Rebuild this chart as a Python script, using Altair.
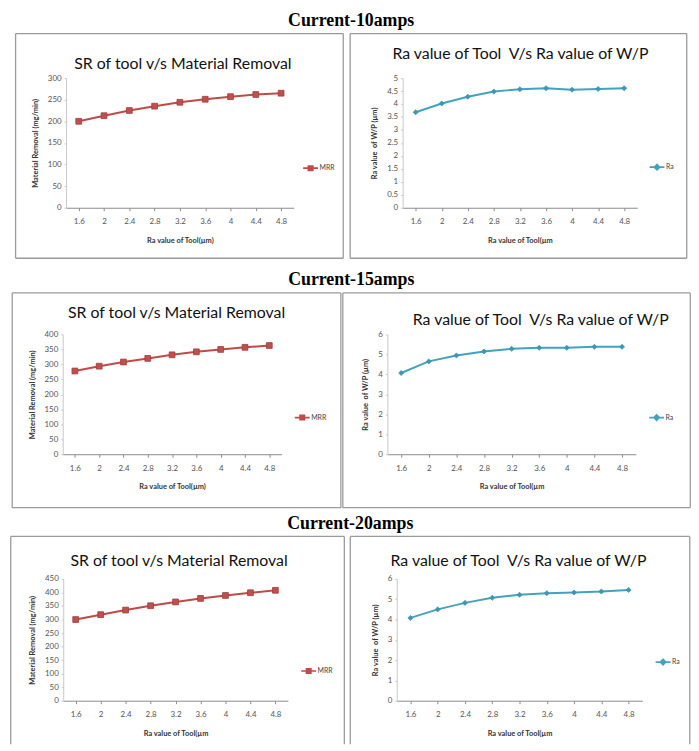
import altair as alt
import pandas as pd

# ---------------- data ----------------
x_labels = ["1.6", "2", "2.4", "2.8", "3.2", "3.6", "4", "4.4", "4.8"]

mrr_10 = [200, 213, 225, 235, 244, 251, 257, 262, 265]
ra_10 = [3.68, 4.02, 4.28, 4.48, 4.57, 4.61, 4.55, 4.58, 4.61]
mrr_15 = [278, 294, 308, 320, 332, 342, 350, 357, 363]
ra_15 = [4.07, 4.65, 4.95, 5.15, 5.28, 5.33, 5.33, 5.38, 5.38]
mrr_20 = [300, 318, 335, 351, 365, 378, 389, 399, 408]
ra_20 = [4.08, 4.50, 4.82, 5.07, 5.22, 5.30, 5.33, 5.38, 5.46]

headings = ["Current-10amps", "Current-15amps", "Current-20amps"]
left_title = "SR of tool v/s Material Removal"
right_title = "Ra value of Tool \u00a0V/s Ra value of W/P"
left_ytitle = "Material Removal (mg/min)"
right_ytitle = "Ra value \u00a0of W/P (\u00b5m)"
x_titles = [
    ["Ra value of Tool(\u00b5m)", "Ra value of Tool(\u00b5m"],
    ["Ra value of Tool(\u00b5m)", "Ra value of Tool(\u00b5m"],
    ["Ra value of Tool(\u00b5m", "Ra value of Tool(\u00b5m"],
]
left_y_ticks = [
    [0, 50, 100, 150, 200, 250, 300],
    [0, 50, 100, 150, 200, 250, 300, 350, 400],
    [0, 50, 100, 150, 200, 250, 300, 350, 400, 450],
]
right_y_ticks = [
    [0, 0.5, 1, 1.5, 2, 2.5, 3, 3.5, 4, 4.5, 5],
    [0, 1, 2, 3, 4, 5, 6],
    [0, 1, 2, 3, 4, 5, 6],
]
mrr_series = [mrr_10, mrr_15, mrr_20]
ra_series = [ra_10, ra_15, ra_20]

# ---------------- styling / layout ----------------
MRR_LINE = "#BE4B48"
MRR_PT = "#C0504D"
MRR_PT_EDGE = "#9E3B38"
RA_LINE = "#43A3BE"
RA_PT = "#3D97B1"
FRAME = "#9a9a9a"
FONT = "Lato"

SQ_PATH = "M-1.5,0H1.5M-0.45,-0.45H0.45V0.45H-0.45Z"
DIA_PATH = "M-1.5,0H1.5M0,-0.55L0.55,0L0,0.55L-0.55,0Z"

# page-pixel geometry of each panel: frame box, plot origin/size, title centre, legend position
geoms = [
    [dict(b=(15, 346, 31, 258), p=(66, 76, 230, 131), t=(184, 62), l=(307, 161), bottom=True),
     dict(b=(352, 692, 31, 258), p=(405, 76, 237, 131), t=(524, 52), l=(656, 160), bottom=True)],
    [dict(b=(13, 345, 290, 507), p=(64, 332, 221, 121), t=(179, 310), l=(300, 410), bottom=True),
     dict(b=(346, 697, 290, 507), p=(391, 332, 251, 121), t=(546, 317), l=(657, 410), bottom=True)],
    [dict(b=(10, 347, 532, 742), p=(63, 575, 227, 123), t=(180, 557), l=(305, 662), bottom=False),
     dict(b=(352, 695, 532, 742), p=(399, 575, 248, 123), t=(522, 557), l=(662, 653), bottom=False)],
]
hspacing = [5, 0, 4]

one = pd.DataFrame({"k": [0]})


def frame_layers(g):
    bx1, bx2, by1, by2 = g["b"]
    px, py, W, H = g["p"]
    x1, x2, y1, y2 = bx1 - px, bx2 - px, by1 - py, by2 - py
    rules = [
        alt.Chart(one).mark_rule(color=FRAME, strokeWidth=1.3).encode(
            x=alt.value(x1), x2=alt.value(x2), y=alt.value(y1)),
        alt.Chart(one).mark_rule(color=FRAME, strokeWidth=1.3).encode(
            x=alt.value(x1), y=alt.value(y1), y2=alt.value(y2)),
        alt.Chart(one).mark_rule(color=FRAME, strokeWidth=1.3).encode(
            x=alt.value(x2), y=alt.value(y1), y2=alt.value(y2)),
    ]
    if g["bottom"]:
        rules.append(alt.Chart(one).mark_rule(color=FRAME, strokeWidth=1.3).encode(
            x=alt.value(x1), x2=alt.value(x2), y=alt.value(y2)))
    return rules


def panel(values, series, line_color, pt_color, pt_edge, shape, pt_size, sym_path,
          yticks, ytitle, xtitle, title, g):
    px, py, W, H = g["p"]
    df = pd.DataFrame({"x": x_labels, "y": values, "series": [series] * len(values)})
    xaxis = alt.Axis(title=xtitle, labelAngle=0, labelFont=FONT, labelFontSize=8,
                     labelColor="#555555", tickSize=3, tickColor="#8c8c8c",
                     domainColor="#8c8c8c", labelPadding=7,
                     titleFont=FONT, titleFontSize=7.5, titleFontWeight="bold",
                     titleColor="#333333", titlePadding=11)
    yaxis = alt.Axis(title=ytitle, values=yticks, format="~f", labelOverlap=False,
                     labelFont=FONT, labelFontSize=8, labelColor="#555555", tickSize=2,
                     tickColor="#c8c8c8", domainColor="#c8c8c8", labelPadding=3,
                     titleFont=FONT, titleFontSize=7.5, titleFontWeight="bold",
                     titleColor="#333333", titlePadding=8)
    xscale = alt.Scale(type="point", padding=0.5)
    yscale = alt.Scale(domain=[yticks[0], yticks[-1]], nice=False)
    lx, ly = g["l"]
    line = alt.Chart(df).mark_line(strokeWidth=2).encode(
        x=alt.X("x:O", sort=x_labels, scale=xscale, axis=xaxis),
        y=alt.Y("y:Q", scale=yscale, axis=yaxis),
        color=alt.Color("series:N", title=None,
                        scale=alt.Scale(domain=[series], range=[line_color]),
                        legend=alt.Legend(orient="none", legendX=lx - px, legendY=ly - py,
                                          symbolType=sym_path, symbolSize=100,
                                          symbolStrokeWidth=1.6, symbolFillColor=pt_color,
                                          symbolStrokeColor=line_color, labelOffset=3,
                                          labelFont=FONT, labelFontSize=7,
                                          labelColor="#444444", padding=0)))
    pts = alt.Chart(df).mark_point(shape=shape, filled=True, size=pt_size, color=pt_color,
                                   stroke=pt_edge, strokeWidth=0.8, opacity=1).encode(
        x=alt.X("x:O", sort=x_labels, scale=xscale, axis=xaxis),
        y=alt.Y("y:Q", scale=yscale, axis=yaxis))
    tx, ty = g["t"]
    ttl = alt.Chart(pd.DataFrame({"t": [title]})).mark_text(
        font=FONT, fontSize=16, color="#111111", align="center", baseline="middle").encode(
        x=alt.value(tx - px), y=alt.value(ty - py), text="t:N")
    return alt.layer(*frame_layers(g), line, pts, ttl).properties(width=W, height=H)


rows = []
for i in range(3):
    gl, gr = geoms[i]
    left = panel(mrr_series[i], "MRR", MRR_LINE, MRR_PT, MRR_PT_EDGE, "square", 34, SQ_PATH,
                 left_y_ticks[i], left_ytitle, x_titles[i][0], left_title, gl)
    right = panel(ra_series[i], "Ra", RA_LINE, RA_PT, RA_PT, "diamond", 26, DIA_PATH,
                  right_y_ticks[i], right_ytitle, x_titles[i][1], right_title, gr)
    rows.append(alt.hconcat(left, right, spacing=hspacing[i]).properties(
        title=alt.TitleParams(text=headings[i], font="Liberation Serif", fontSize=18,
                              fontWeight="bold", color="#000000", anchor="middle",
                              offset=3)
    ).resolve_scale(color="independent", x="independent", y="independent"))

lower = alt.vconcat(rows[1], rows[2], spacing=6, center=True).resolve_scale(
    color="independent", x="independent", y="independent")
chart = alt.vconcat(rows[0], lower, spacing=12, center=True).properties(
    padding={"left": 2, "top": 0, "right": 0, "bottom": 0}
).resolve_scale(color="independent", x="independent", y="independent"
).configure_view(strokeWidth=0).configure_axis(grid=False)

chart.save("out.html", embed_options={"renderer": "svg", "actions": False})
